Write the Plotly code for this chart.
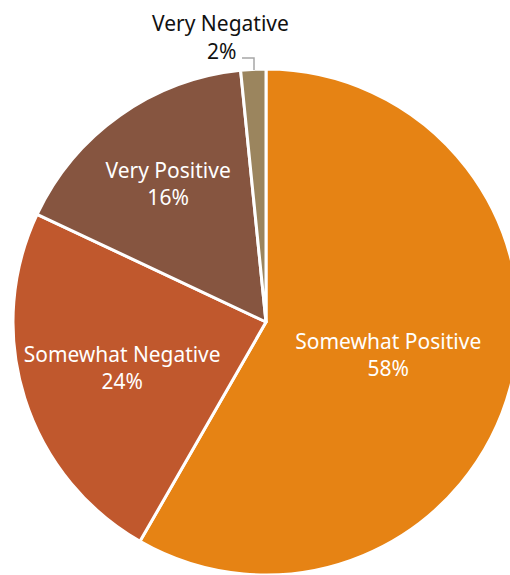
import plotly.graph_objects as go

categories = ["Somewhat Positive", "Somewhat Negative", "Very Positive", "Very Negative"]
shares = [58.3, 23.7, 16.4, 1.6]
colors = ["#E68314", "#C0582D", "#865540", "#9B855E"]
text_positions = ["inside", "inside", "inside", "none"]

W, H = 530, 590
cx, cy, r = 266, 322, 253

fig = go.Figure(go.Pie(
    labels=categories,
    values=shares,
    sort=False,
    direction="clockwise",
    rotation=0,
    marker=dict(colors=colors, line=dict(color="white", width=3)),
    texttemplate="%{label}<br>%{percent:.0%}",
    textposition=text_positions,
    insidetextorientation="horizontal",
    textfont=dict(family="Noto Sans", size=21, color="white"),
    hoverinfo="label+percent",
    domain=dict(x=[(cx - r) / W, (cx + r) / W], y=[(H - cy - r) / H, (H - cy + r) / H]),
    showlegend=False,
))

# outside label for the small slice, with an elbow leader line
small = 3
pct_small = round(100 * shares[small] / sum(shares))
label_font = dict(family="Noto Sans", size=21, color="#111111")
fig.add_annotation(
    x=220 / W, y=1 - 23 / H, xref="paper", yref="paper",
    text=categories[small], showarrow=False, xanchor="center", yanchor="middle",
    font=label_font,
)
fig.add_annotation(
    x=221 / W, y=1 - 51 / H, xref="paper", yref="paper",
    text=f"{pct_small}%", showarrow=False, xanchor="center", yanchor="middle",
    font=label_font,
)
fig.add_shape(
    type="path", xref="paper", yref="paper",
    path=f"M {242 / W} {1 - 58 / H} L {254 / W} {1 - 58 / H} L {254 / W} {1 - 70 / H}",
    line=dict(color="#A6A6A6", width=1.5),
)

fig.update_layout(
    width=W, height=H,
    margin=dict(l=0, r=0, t=0, b=0),
    paper_bgcolor="white",
    plot_bgcolor="white",
    showlegend=False,
)

fig.write_html(
    "out.html",
    config={"displayModeBar": False},
    post_script="document.body.style.margin='0';document.body.style.overflow='hidden';",
)
